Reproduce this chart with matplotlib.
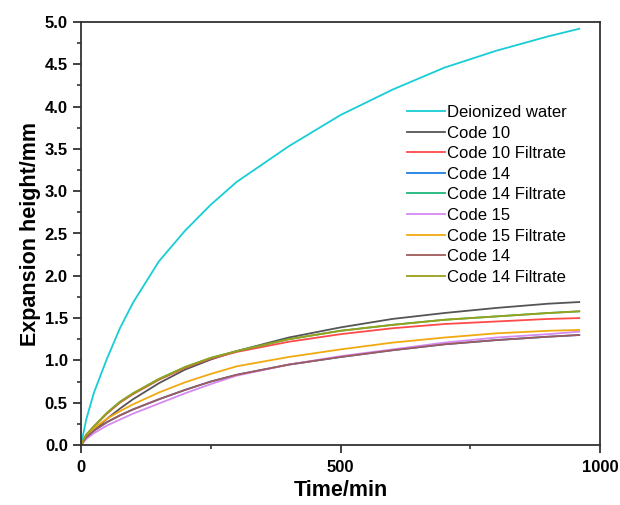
import matplotlib
matplotlib.use("Agg")
import matplotlib.pyplot as plt
from matplotlib.ticker import MultipleLocator, FormatStrFormatter

plt.rcParams['font.family'] = ['Liberation Sans', 'DejaVu Sans']

# time points (min) and expansion heights (mm)
time_min = [0, 10, 25, 50, 75, 100, 150, 200, 250, 300, 400, 500, 600, 700, 800, 900, 960]
water = [0, 0.30, 0.62, 1.02, 1.38, 1.68, 2.17, 2.53, 2.84, 3.11, 3.53, 3.90, 4.20, 4.46, 4.66, 4.83, 4.92]
code10 = [0, 0.08, 0.17, 0.31, 0.43, 0.54, 0.73, 0.89, 1.01, 1.11, 1.27, 1.39, 1.49, 1.56, 1.62, 1.67, 1.69]
code10_filtrate = [0, 0.12, 0.22, 0.37, 0.50, 0.60, 0.77, 0.91, 1.02, 1.10, 1.22, 1.31, 1.38, 1.43, 1.46, 1.49, 1.50]
code14 = [0, 0.09, 0.17, 0.27, 0.35, 0.42, 0.54, 0.65, 0.75, 0.83, 0.95, 1.04, 1.12, 1.19, 1.24, 1.28, 1.30]
code14_filtrate = [0, 0.12, 0.22, 0.38, 0.51, 0.61, 0.78, 0.92, 1.03, 1.11, 1.25, 1.35, 1.42, 1.48, 1.52, 1.56, 1.58]
code15 = [0, 0.07, 0.14, 0.23, 0.30, 0.37, 0.49, 0.61, 0.72, 0.82, 0.95, 1.05, 1.13, 1.21, 1.27, 1.31, 1.34]
code15_filtrate = [0, 0.11, 0.20, 0.31, 0.40, 0.48, 0.62, 0.74, 0.84, 0.93, 1.04, 1.13, 1.21, 1.27, 1.32, 1.35, 1.36]
code14b = [0, 0.09, 0.17, 0.27, 0.35, 0.42, 0.54, 0.65, 0.75, 0.83, 0.95, 1.04, 1.12, 1.19, 1.24, 1.28, 1.30]
code14b_filtrate = [0, 0.12, 0.22, 0.38, 0.51, 0.61, 0.78, 0.92, 1.03, 1.11, 1.25, 1.35, 1.42, 1.48, 1.52, 1.56, 1.58]

labels = ["Deionized water", "Code 10", "Code 10 Filtrate", "Code 14", "Code 14 Filtrate",
          "Code 15", "Code 15 Filtrate", "Code 14", "Code 14 Filtrate"]
series = [water, code10, code10_filtrate, code14, code14_filtrate,
          code15, code15_filtrate, code14b, code14b_filtrate]
colors = ["#17CDD6", "#555555", "#FF4A4A", "#1E80E0", "#1DB67A",
          "#D58AF0", "#F0AA10", "#A05A5A", "#9AA018"]

fig = plt.figure(figsize=(6.2, 5.05), dpi=100)
ax = fig.add_axes([81 / 620, 60 / 505, 519 / 620, 423 / 505])

for vals, lab, col in zip(series, labels, colors):
    ax.plot(time_min, vals, color=col, lw=1.3, label=lab)

ax.set_xlim(0, 1000)
ax.set_ylim(0, 5.0)
ax.xaxis.set_major_locator(MultipleLocator(500))
ax.xaxis.set_minor_locator(MultipleLocator(250))
ax.yaxis.set_major_locator(MultipleLocator(0.5))
ax.yaxis.set_minor_locator(MultipleLocator(0.25))
ax.yaxis.set_major_formatter(FormatStrFormatter('%.1f'))

for s in ax.spines.values():
    s.set_linewidth(1.3)
    s.set_color("#333333")
ax.tick_params(which='major', direction='out', length=5.5, width=1.3, color="#333333",
               labelsize=12, pad=4)
ax.tick_params(which='minor', direction='out', length=3, width=1.2, color="#333333")
ax.tick_params(axis='x', which='major', pad=5)
for t in ax.get_xticklabels() + ax.get_yticklabels():
    t.set_fontweight('bold')

ax.set_xlabel("Time/min", fontsize=15.5, fontweight='bold', labelpad=4)
ax.set_ylabel("Expansion height/mm", fontsize=15.5, fontweight='bold', labelpad=3)

ax.legend(loc='upper left', bbox_to_anchor=(0.628, 0.804), frameon=False,
          fontsize=12, handlelength=2.28, handletextpad=0.15, labelspacing=0.336,
          borderpad=0, borderaxespad=0)

fig.savefig("out.png", dpi=100)
